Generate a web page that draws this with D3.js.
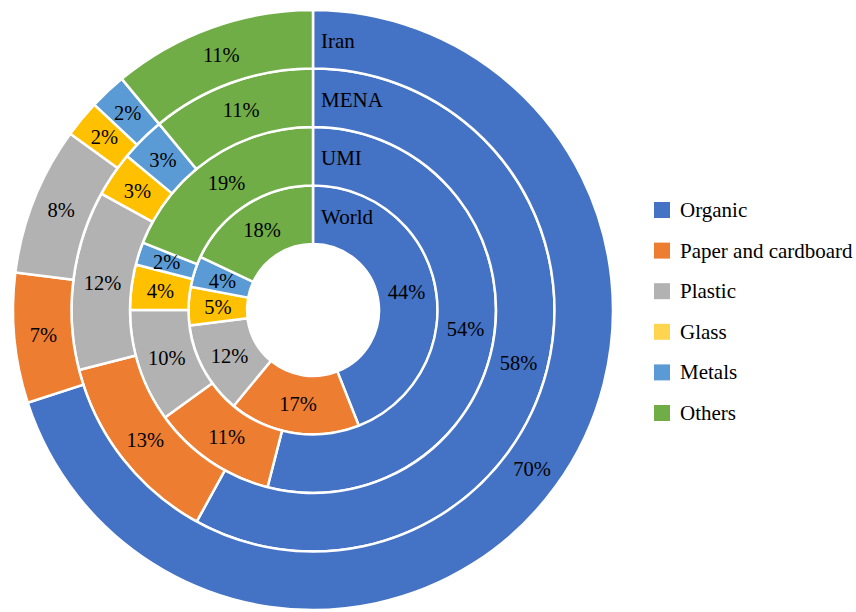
<!DOCTYPE html>
<html>
<head>
<meta charset="utf-8">
<script src="https://cdn.jsdelivr.net/npm/d3@7"></script>
<style>
  html, body { margin: 0; padding: 0; background: #fff; }
  svg { display: block; }
</style>
</head>
<body>
<svg id="chart" width="856" height="612"></svg>
<script>
// ---- data ----
const categories = ["Organic", "Paper and cardboard", "Plastic", "Glass", "Metals", "Others"];
const regions = ["World", "UMI", "MENA", "Iran"]; // inner -> outer
const world = [44, 17, 12, 5, 4, 18];
const umi   = [54, 11, 10, 4, 2, 19];
const mena  = [58, 13, 12, 3, 3, 11];
const iran  = [70, 7, 8, 2, 2, 11];
const seriesValues = [world, umi, mena, iran];
const colors = ["#4472C4", "#ED7D31", "#B2B2B2", "#FFC000", "#5B9BD5", "#70AD47"];
const legendColors = ["#4472C4", "#ED7D31", "#B2B2B2", "#FFD54F", "#5B9BD5", "#70AD47"];

const FONT = "'Liberation Serif', Tinos, 'Times New Roman', Times, serif";

// ---- layout ----
const svg = d3.select("#chart");
const cx = 313, cy = 310;
const holeR = 66, outerR = 300;
const ring = d3.scaleLinear().domain([0, regions.length]).range([holeR, outerR]);
const color = d3.scaleOrdinal().domain(categories).range(colors);

const pie = d3.pie().sort(null).value(d => d.v);

const g = svg.append("g").attr("transform", `translate(${cx},${cy})`);

seriesValues.forEach((vals, i) => {
  const r0 = ring(i), r1 = ring(i + 1);
  const arc = d3.arc().innerRadius(r0).outerRadius(r1);
  const data = pie(vals.map((v, k) => ({ v, cat: categories[k] })));
  const rg = g.append("g").attr("class", "ring-" + regions[i]);
  rg.selectAll("path").data(data).join("path")
    .attr("d", arc)
    .attr("fill", d => color(d.data.cat))
    .attr("stroke", "#fff")
    .attr("stroke-width", 2.5)
    .attr("stroke-linejoin", "miter");
  rg.selectAll("text.pct").data(data).join("text")
    .attr("class", "pct")
    .attr("transform", d => `translate(${arc.centroid(d)})`)
    .attr("text-anchor", "middle")
    .attr("dominant-baseline", "central")
    .attr("font-family", FONT)
    .attr("font-size", 20.5)
    .attr("fill", "#000")
    .text(d => d.data.v + "%");
  // series name at the start of the ring
  g.append("text")
    .attr("x", 8)
    .attr("y", -(r0 + r1) / 2 + 2)
    .attr("dominant-baseline", "central")
    .attr("font-family", FONT)
    .attr("font-size", 21)
    .attr("fill", "#000")
    .text(regions[i]);
});

// ---- legend ----
const legend = svg.append("g").attr("transform", "translate(654,210)");
const ly = d3.scalePoint().domain(categories).range([0, 203]);
categories.forEach((c, k) => {
  const row = legend.append("g").attr("transform", `translate(0,${ly(c)})`);
  row.append("rect").attr("x", 0).attr("y", -8).attr("width", 16).attr("height", 16)
    .attr("fill", legendColors[k]);
  row.append("text").attr("x", 26).attr("y", 0)
    .attr("dominant-baseline", "central")
    .attr("font-family", FONT)
    .attr("font-size", 21)
    .attr("fill", "#000")
    .text(c);
});
</script>
</body>
</html>
